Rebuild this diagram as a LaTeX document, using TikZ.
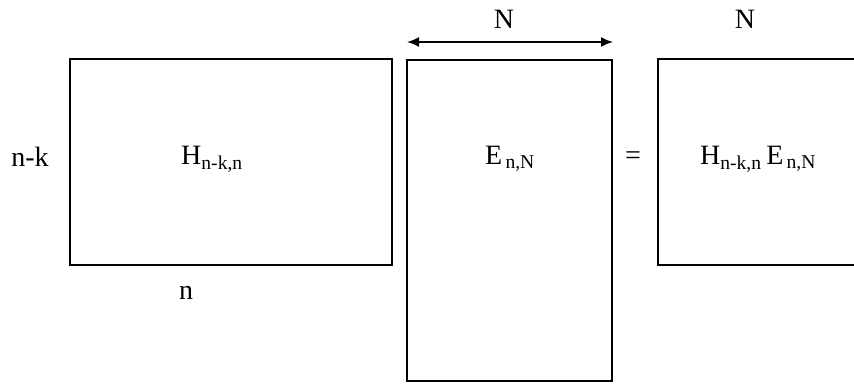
\documentclass[tikz,border=0pt]{standalone}
\usepackage{fontspec}
\setmainfont{Liberation Serif}
\usetikzlibrary{arrows.meta}
\begin{document}
\begin{tikzpicture}[x=1pt,y=-1pt,
  mbox/.style={draw=black,line width=2pt},
  lbl/.style={inner sep=0pt,anchor=base,font=\fontsize{28}{32}\selectfont},
  dimarrow/.style={{Latex[length=12pt,width=10pt]}-{Latex[length=12pt,width=10pt]},line width=1.8pt}]
\useasboundingbox (0,0) rectangle (854,383);
\begin{scope}
\clip (0,0) rectangle (854,383);
\draw[mbox] (70,59) rectangle (392,265);
\draw[mbox] (407,60) rectangle (612,381);
\draw[mbox] (658,59) rectangle (880,265);
\end{scope}
\coordinate (al) at (407,42);
\coordinate (ar) at (613,42);
\draw[dimarrow] (al) -- (ar);
\node[lbl] (n1) at (504,28) {N};
\node[lbl] (n2) at (745,28) {N};
\node[lbl] (nk) at (30,166) {n-k};
\node[lbl] (nn) at (186,299) {n};
\node[lbl] (h) at (212,164) {H\textsubscript{n-k,n}};
\node[lbl] (e) at (510,164) {E\textsubscript{\,n,N}};
\node[lbl] (eq) at (633,164) {=};
\node[lbl] (he) at (758,164) {H\textsubscript{n-k,n}\,E\textsubscript{\,n,N}};
\end{tikzpicture}
\end{document}
